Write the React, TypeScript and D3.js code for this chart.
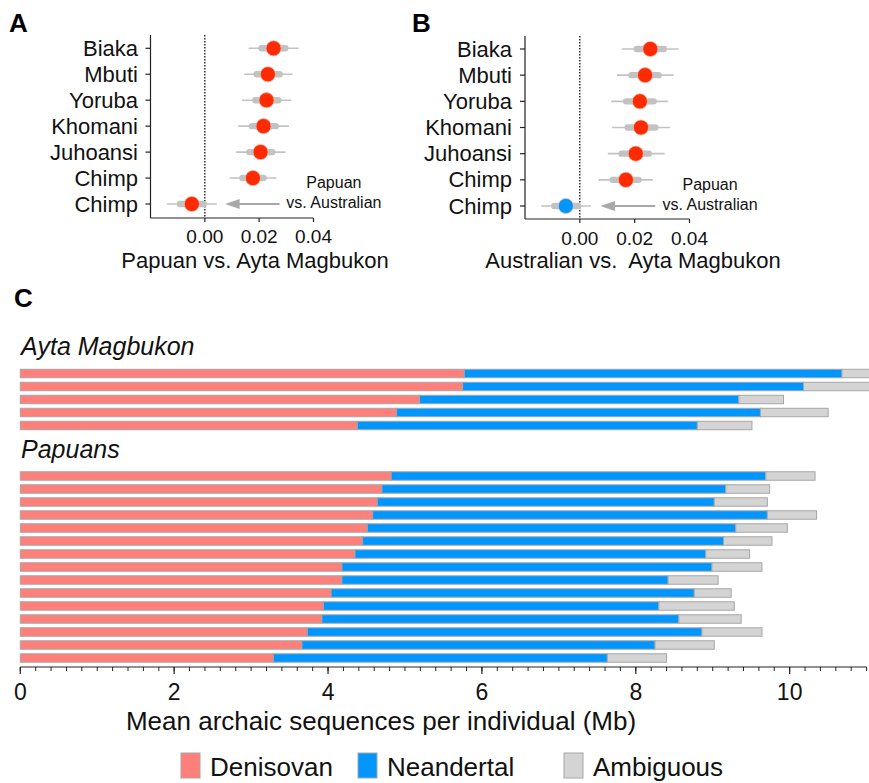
import * as d3 from 'd3'

const FONT = '"Liberation Sans", Arial, Helvetica, sans-serif'
const W = 869
const H = 783

// ── Panels A / B : D-statistics per outgroup ──
const popLabels = ['Biaka', 'Mbuti', 'Yoruba', 'Khomani', 'Juhoansi', 'Chimp', 'Chimp']

const aEst = [0.0253, 0.0232, 0.0227, 0.0216, 0.0205, 0.0177, -0.0048]
const aThickLo = [0.0197, 0.0179, 0.0174, 0.0162, 0.0152, 0.0127, -0.0103]
const aThickHi = [0.0308, 0.0287, 0.0282, 0.0273, 0.0260, 0.0228, 0.0007]
const aThinLo = [0.0161, 0.0145, 0.0137, 0.0123, 0.0115, 0.0091, -0.0140]
const aThinHi = [0.0345, 0.0323, 0.0318, 0.0309, 0.0297, 0.0263, 0.0044]

const bEst = [0.0257, 0.0238, 0.0219, 0.0223, 0.0204, 0.0168, -0.0051]
const bThickLo = [0.0196, 0.0177, 0.0157, 0.0163, 0.0141, 0.0108, -0.0105]
const bThickHi = [0.0318, 0.0299, 0.0281, 0.0287, 0.0263, 0.0226, 0.0005]
const bThinLo = [0.0153, 0.0135, 0.0114, 0.0117, 0.0102, 0.0068, -0.0141]
const bThinHi = [0.0360, 0.0342, 0.0321, 0.0330, 0.0309, 0.0266, 0.0041]

const dTicks = [0, 0.02, 0.04]

// ── Panel C : archaic sequence per individual (Mb) ──
const aytaDen = [5.77, 5.75, 5.19, 4.89, 4.38]
const aytaNea = [4.91, 4.43, 4.15, 4.73, 4.42]
const aytaAmb = [0.8, 1.2, 0.58, 0.88, 0.71]

const papDen = [4.82, 4.70, 4.64, 4.58, 4.51, 4.45, 4.35, 4.18, 4.18, 4.04, 3.94, 3.92, 3.73, 3.66, 3.29]
const papNea = [4.87, 4.47, 4.38, 5.13, 4.79, 4.69, 4.56, 4.81, 4.24, 4.72, 4.36, 4.64, 5.13, 4.59, 4.34]
const papAmb = [0.64, 0.57, 0.69, 0.64, 0.67, 0.63, 0.57, 0.65, 0.65, 0.48, 0.98, 0.81, 0.78, 0.77, 0.77]

const mbTicks = [0, 2, 4, 6, 8, 10]
const keys = ['den', 'nea', 'amb']
const legendLabels = ['Denisovan', 'Neandertal', 'Ambiguous']
const colors: Record<string, string> = { den: '#ff7f7a', nea: '#0096ff', amb: '#d4d4d4' }

const RED = '#ff2a00'
const BLUE = '#0096ff'

type ForestProps = {
  x0: number; x1: number; yTop: number; yAxis: number; yFirst: number; yLast: number
  labelRight: number; est: number[]; thickLo: number[]; thickHi: number[]; thinLo: number[]; thinHi: number[]
  lastColor: string; title: string; titleX: number; tickY: number; titleY: number
}

function Forest(p: ForestProps) {
  const x = d3.scaleLinear().domain([-0.02, 0.04]).range([p.x0, p.x1])
  const y = d3.scalePoint<number>().domain(d3.range(popLabels.length)).range([p.yFirst, p.yLast])
  const last = popLabels.length - 1
  const ay = y(last)!
  return (
    <g fontFamily={FONT}>
      {/* axes */}
      <line x1={p.x0} x2={p.x0} y1={p.yTop} y2={p.yAxis} stroke="#222" strokeWidth={1.2} />
      <line x1={p.x0} x2={p.x1} y1={p.yAxis} y2={p.yAxis} stroke="#222" strokeWidth={1.2} />
      {popLabels.map((l, i) => (
        <g key={i}>
          <line x1={p.x0 - 5} x2={p.x0} y1={y(i)} y2={y(i)} stroke="#222" strokeWidth={1.2} />
          <text x={p.labelRight} y={y(i)! + 7.5} textAnchor="end" fontSize={22} fill="#111">{l}</text>
        </g>
      ))}
      {dTicks.map(t => (
        <g key={t}>
          <line x1={x(t)} x2={x(t)} y1={p.yAxis} y2={p.yAxis + 4} stroke="#222" strokeWidth={1.2} />
          <text x={x(t)} y={p.tickY} textAnchor="middle" fontSize={19} fill="#111">{t.toFixed(2)}</text>
        </g>
      ))}
      <line x1={x(0)} x2={x(0)} y1={p.yTop} y2={p.yAxis} stroke="#111" strokeWidth={1.3} strokeDasharray="1.5,1.5" />

      {/* estimates with 2 kinds of intervals */}
      {p.est.map((v, i) => (
        <g key={i}>
          <line x1={x(p.thinLo[i])} x2={x(p.thinHi[i])} y1={y(i)} y2={y(i)} stroke="#c2c2c2" strokeWidth={1.6} />
          <rect x={x(p.thickLo[i])} width={x(p.thickHi[i]) - x(p.thickLo[i])} y={y(i)! - 3.2} height={6.4} rx={3.2} fill="#c2c2c2" />
          <circle cx={x(v)} cy={y(i)} r={7.6} fill={i === last ? p.lastColor : RED} stroke="#e6c2b8" strokeWidth={0.8} />
        </g>
      ))}

      {/* annotation arrow */}
      <line x1={x(0.0275)} x2={x(0.0095)} y1={ay} y2={ay} stroke="#a8a8a8" strokeWidth={2} />
      <path d={`M${x(0.0075)},${ay} L${x(0.0128)},${ay - 5} L${x(0.0128)},${ay + 5} Z`} fill="#a8a8a8" />
      <text x={x(0.0475)} y={y(last - 1)! + 10} textAnchor="middle" fontSize={16} fill="#111">Papuan</text>
      <text x={x(0.0475)} y={ay + 4} textAnchor="middle" fontSize={16} fill="#111">vs. Australian</text>

      <text x={p.titleX} y={p.titleY} textAnchor="middle" fontSize={22} fill="#111" style={{ whiteSpace: 'pre' }}>{p.title}</text>
    </g>
  )
}

const toRows = (den: number[], nea: number[], amb: number[]) => den.map((d, i) => ({ den: d, nea: nea[i], amb: amb[i] }))

function Bars({ rows, y, x }: { rows: { den: number; nea: number; amb: number }[]; y: d3.ScaleBand<number>; x: d3.ScaleLinear<number, number> }) {
  const series = d3.stack<{ den: number; nea: number; amb: number }>().keys(keys)(rows)
  return (
    <g>
      {series.map(s => s.map((seg, i) => (
        <rect key={s.key + i} x={x(seg[0])} width={x(seg[1]) - x(seg[0])} y={y(i)} height={y.bandwidth()}
          fill={colors[s.key]} stroke="#a6a6a6" strokeWidth={1} />
      )))}
    </g>
  )
}

export default function App() {
  const xC = d3.scaleLinear().domain([0, 11]).range([20.3, 866.6])
  const yAyta = d3.scaleBand<number>().domain(d3.range(aytaDen.length)).range([367, 432]).paddingInner(0.35).paddingOuter(0.175)
  const yPap = d3.scaleBand<number>().domain(d3.range(papDen.length)).range([469.5, 664.5]).paddingInner(0.35).paddingOuter(0.175)
  const minor = d3.range(0, 11.0001, 0.2)
  const axisY = 667
  const legendX = [181, 358, 564]

  return (
    <div style={{ position: 'absolute', left: 0, top: 0 }}>
      <svg width={W} height={H} style={{ display: 'block', background: '#fff' }}>
        <g fontFamily={FONT} fontWeight="bold" fontSize={26} fill="#000">
          <text x={9} y={32}>A</text>
          <text x={412} y={32}>B</text>
          <text x={14} y={307}>C</text>
        </g>

        <Forest x0={150.5} x1={313.5} yTop={35} yAxis={218} yFirst={48.3} yLast={204} labelRight={138}
          est={aEst} thickLo={aThickLo} thickHi={aThickHi} thinLo={aThinLo} thinHi={aThinHi}
          lastColor={RED} title="Papuan vs. Ayta Magbukon" titleX={255} tickY={243} titleY={268} />
        <Forest x0={525} x1={689.5} yTop={36} yAxis={219} yFirst={49} yLast={206} labelRight={512}
          est={bEst} thickLo={bThickLo} thickHi={bThickHi} thinLo={bThinLo} thinHi={bThinHi}
          lastColor={BLUE} title="Australian vs.  Ayta Magbukon" titleX={633} tickY={245} titleY={268} />

        {/* Panel C */}
        <g fontFamily={FONT} fill="#111">
          <text x={21} y={355} fontSize={25} fontStyle="italic">Ayta Magbukon</text>
          <text x={21} y={458} fontSize={25} fontStyle="italic">Papuans</text>
        </g>
        <Bars rows={toRows(aytaDen, aytaNea, aytaAmb)} y={yAyta} x={xC} />
        <Bars rows={toRows(papDen, papNea, papAmb)} y={yPap} x={xC} />

        <g fontFamily={FONT}>
          <line x1={xC(0)} x2={xC(11)} y1={axisY} y2={axisY} stroke="#222" strokeWidth={1.2} />
          {minor.map((t, i) => (
            <line key={i} x1={xC(t)} x2={xC(t)} y1={axisY} y2={axisY + 4} stroke="#222" strokeWidth={1} />
          ))}
          {mbTicks.map(t => (
            <g key={t}>
              <line x1={xC(t)} x2={xC(t)} y1={axisY} y2={axisY + 7} stroke="#222" strokeWidth={1.2} />
              <text x={xC(t)} y={700} textAnchor="middle" fontSize={23} fill="#111">{t}</text>
            </g>
          ))}
          <text x={381} y={730} textAnchor="middle" fontSize={26} fill="#111">Mean archaic sequences per individual (Mb)</text>
          {keys.map((k, i) => (
            <g key={k}>
              <rect x={legendX[i]} y={753} width={19} height={25} fill={colors[k]} stroke="#a6a6a6" strokeWidth={1} />
              <text x={legendX[i] + 29} y={776} fontSize={26} fill="#111">{legendLabels[i]}</text>
            </g>
          ))}
        </g>
      </svg>
    </div>
  )
}
